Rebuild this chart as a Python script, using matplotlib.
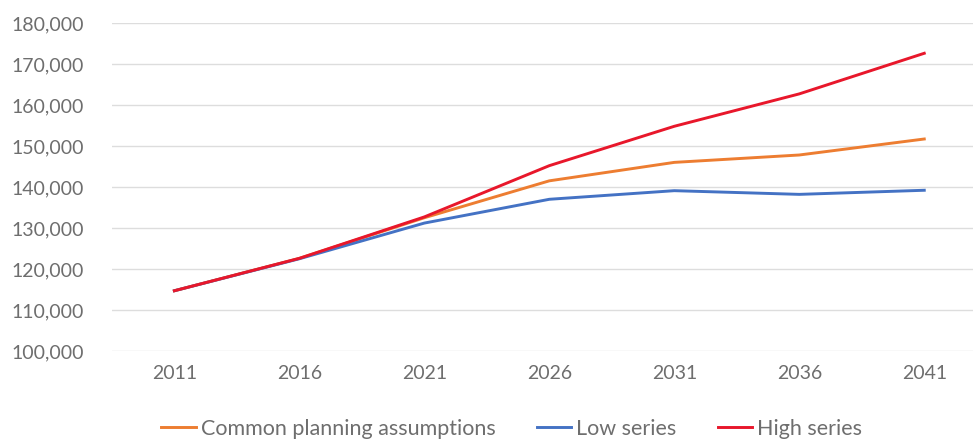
import matplotlib
matplotlib.use("Agg")
import matplotlib.pyplot as plt
from matplotlib.ticker import FuncFormatter

years = ["2011", "2016", "2021", "2026", "2031", "2036", "2041"]
common_planning = [114700, 122600, 132500, 141500, 146000, 147800, 151700]
low_series = [114700, 122500, 131200, 137000, 139100, 138200, 139200]
high_series = [114700, 122600, 132700, 145200, 154800, 162700, 172600]

plt.rcParams['font.family'] = ['Lato', 'DejaVu Sans']

fig = plt.figure(figsize=(9.73, 4.41), dpi=100)
ax = fig.add_axes([0.115, 0.204, 0.885, 0.744])

x = range(len(years))
ax.plot(x, common_planning, color='#ED7D31', linewidth=2.1, label='Common planning assumptions')
ax.plot(x, low_series, color='#4472C4', linewidth=2.1, label='Low series')
ax.plot(x, high_series, color='#E8172B', linewidth=2.1, label='High series')

ax.set_ylim(100000, 180000)
ax.set_yticks(range(100000, 180001, 10000))
ax.yaxis.set_major_formatter(FuncFormatter(lambda v, p: f"{int(v):,}"))
ax.set_xlim(-0.5, 6.39)
ax.set_xticks(list(x))
ax.set_xticklabels(years)

ax.grid(axis='y', color='#DDDDDD', linewidth=1)
ax.set_axisbelow(True)
for s in ax.spines.values():
    s.set_visible(False)
ax.tick_params(length=0, labelsize=14, colors='#6E6E6E', pad=10)
ax.tick_params(axis='y', pad=20)

fig.legend(loc='center', bbox_to_anchor=(0.526, 0.028), ncol=3, frameon=False,
           fontsize=15.5, labelcolor='#6E6E6E', handlelength=1.6, handletextpad=0.25,
           columnspacing=1.9)

plt.savefig("out.png", dpi=100)
